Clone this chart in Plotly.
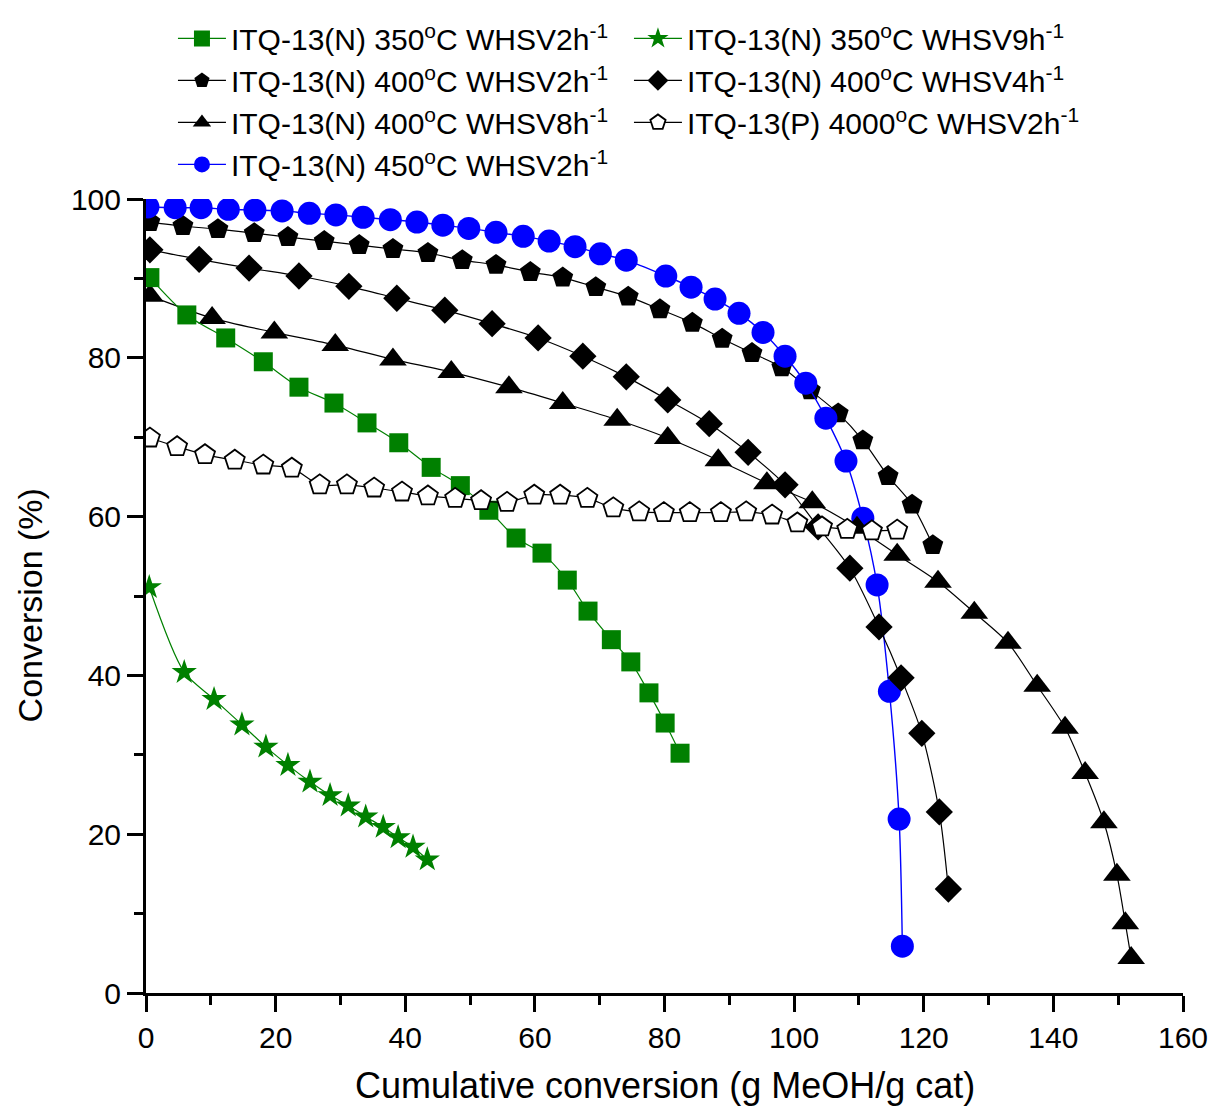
import plotly.graph_objects as go

# ITQ-13(N) 350 °C, WHSV 2 h-1
x_n350_w2 = [0.6, 6.3, 12.3, 18.1, 23.6, 29.0, 34.1, 39.0, 44.0, 48.5, 52.9, 57.1,
             61.1, 65.0, 68.2, 71.8, 74.8, 77.6, 80.1, 82.4]
y_n350_w2 = [90.1, 85.4, 82.5, 79.5, 76.3, 74.3, 71.8, 69.3, 66.2, 63.9, 60.8, 57.3,
             55.4, 52.0, 48.1, 44.5, 41.7, 37.8, 34.0, 30.2]

# ITQ-13(N) 350 °C, WHSV 9 h-1
x_n350_w9 = [0.5, 5.9, 10.5, 14.8, 18.5, 21.9, 25.3, 28.4, 31.2, 33.9, 36.6, 38.9, 41.2, 43.4]
y_n350_w9 = [51.1, 40.4, 37.0, 33.8, 31.0, 28.7, 26.6, 24.9, 23.6, 22.2, 20.9, 19.6, 18.4, 16.8]

# ITQ-13(N) 400 °C, WHSV 2 h-1
x_n400_w2 = [0.6, 5.7, 11.1, 16.7, 21.9, 27.5, 32.9, 38.1, 43.5, 48.8, 54.0, 59.3, 64.3,
             69.4, 74.4, 79.3, 84.3, 88.9, 93.5, 98.1, 102.5, 106.8, 110.6, 114.5, 118.2, 121.4]
y_n400_w2 = [97.1, 96.6, 96.2, 95.7, 95.2, 94.7, 94.2, 93.7, 93.2, 92.3, 91.7, 90.8, 90.1,
             88.9, 87.7, 86.1, 84.4, 82.4, 80.6, 78.8, 75.9, 73.0, 69.6, 65.1, 61.5, 56.4]

# ITQ-13(N) 400 °C, WHSV 4 h-1
x_n400_w4 = [0.6, 8.2, 15.9, 23.6, 31.3, 38.7, 46.1, 53.4, 60.5, 67.4, 74.1, 80.5, 86.9,
             92.9, 98.6, 103.7, 108.6, 113.1, 116.5, 119.7, 122.4, 123.8]
y_n400_w4 = [93.6, 92.4, 91.3, 90.3, 89.0, 87.5, 86.0, 84.3, 82.5, 80.2, 77.6, 74.7, 71.7,
             68.1, 64.0, 58.7, 53.5, 46.1, 39.7, 32.7, 22.8, 13.1]

# ITQ-13(N) 400 °C, WHSV 8 h-1
x_n400_w8 = [0.6, 10.2, 19.8, 29.2, 38.1, 47.1, 56.0, 64.3, 72.7, 80.5, 88.3, 95.8, 102.8,
             109.7, 115.9, 122.2, 127.8, 133.0, 137.5, 141.8, 144.9, 147.8, 149.8, 151.1, 152.0]
y_n400_w8 = [87.8, 85.0, 83.2, 81.6, 79.8, 78.2, 76.3, 74.3, 72.2, 69.9, 67.1, 64.2, 61.8,
             58.6, 55.2, 51.8, 47.9, 44.1, 38.7, 33.4, 27.7, 21.5, 14.9, 8.8, 4.4]

# ITQ-13(P), WHSV 2 h-1
x_p_w2 = [0.6, 4.8, 9.1, 13.7, 18.1, 22.5, 26.8, 31.0, 35.2, 39.5, 43.5, 47.7, 51.7, 55.7,
          59.9, 63.9, 68.1, 72.1, 76.1, 79.9, 83.9, 88.7, 92.6, 96.6, 100.5, 104.3, 108.2,
          112.0, 115.9]
y_p_w2 = [69.9, 68.8, 67.8, 67.1, 66.5, 66.1, 64.0, 64.0, 63.6, 63.1, 62.6, 62.3, 62.0, 61.8,
          62.7, 62.7, 62.3, 61.1, 60.6, 60.5, 60.5, 60.5, 60.6, 60.2, 59.2, 58.7, 58.4,
          58.2, 58.3]

# ITQ-13(N) 450 °C, WHSV 2 h-1
x_n450_w2 = [0.3, 4.5, 8.5, 12.7, 16.8, 21.0, 25.2, 29.3, 33.5, 37.7, 41.8, 45.8, 49.8,
             54.0, 58.2, 62.2, 66.2, 70.1, 74.1, 80.2, 84.1, 87.8, 91.5, 95.2, 98.6, 101.8,
             104.9, 108.0, 110.6, 112.8, 114.7, 116.2, 116.7]
y_n450_w2 = [99.0, 98.9, 98.9, 98.7, 98.6, 98.5, 98.2, 98.0, 97.7, 97.4, 97.1, 96.7, 96.3,
             95.8, 95.3, 94.7, 94.0, 93.1, 92.3, 90.3, 88.9, 87.4, 85.6, 83.2, 80.2, 76.8,
             72.4, 67.0, 59.8, 51.4, 38.0, 21.9, 5.9]

names = {
    "n350_w2": "ITQ-13(N) 350<sup>o</sup>C WHSV2h<sup>-1</sup>",
    "n350_w9": "ITQ-13(N) 350<sup>o</sup>C WHSV9h<sup>-1</sup>",
    "n400_w2": "ITQ-13(N) 400<sup>o</sup>C WHSV2h<sup>-1</sup>",
    "n400_w4": "ITQ-13(N) 400<sup>o</sup>C WHSV4h<sup>-1</sup>",
    "n400_w8": "ITQ-13(N) 400<sup>o</sup>C WHSV8h<sup>-1</sup>",
    "p_w2": "ITQ-13(P) 4000<sup>o</sup>C WHSV2h<sup>-1</sup>",
    "n450_w2": "ITQ-13(N) 450<sup>o</sup>C WHSV2h<sup>-1</sup>",
}

GREEN = "#008000"
BLUE = "#0000FF"
BLACK = "#000000"
FONT = "Arial, 'Liberation Sans', sans-serif"

fig = go.Figure()


def add(x, y, name, rank, color, symbol, size, fill=None, mline=0, lw=1.2):
    fig.add_trace(go.Scatter(
        x=x, y=y, name=name, mode="lines+markers", legendrank=rank,
        line=dict(color=color, width=lw, shape="spline", smoothing=0.8),
        marker=dict(symbol=symbol, size=size, color=fill or color,
                    line=dict(color=color, width=mline)),
    ))


# drawing order (bottom to top)
add(x_n400_w2, y_n400_w2, names["n400_w2"], 3, BLACK, "pentagon", 22)
add(x_n450_w2, y_n450_w2, names["n450_w2"], 7, BLUE, "circle", 23, lw=1.4)
add(x_n400_w4, y_n400_w4, names["n400_w4"], 4, BLACK, "diamond", 21)
add(x_n400_w8, y_n400_w8, names["n400_w8"], 5, BLACK, "triangle-up", 24)
add(x_n350_w2, y_n350_w2, names["n350_w2"], 1, GREEN, "square", 19)
add(x_n350_w9, y_n350_w9, names["n350_w9"], 2, GREEN, "star", 19)
add(x_p_w2, y_p_w2, names["p_w2"], 6, BLACK, "pentagon", 21, fill="#FFFFFF", mline=1.8)

axis_common = dict(
    showline=True, linecolor=BLACK, linewidth=3, mirror=False, automargin=False,
    ticks="outside", ticklen=16, tickwidth=3, tickcolor=BLACK,
    showgrid=False, zeroline=False,
    tickfont=dict(family=FONT, size=30, color=BLACK),
    minor=dict(ticks="outside", ticklen=9, tickwidth=3, tickcolor=BLACK, dtick=10, showgrid=False),
)

fig.update_xaxes(range=[0, 160], dtick=20, tick0=0, **axis_common)
fig.update_yaxes(range=[0, 100], dtick=20, tick0=0, **axis_common)

fig.update_layout(
    width=1211, height=1108,
    margin=dict(l=146, r=28, t=199, b=115, autoexpand=False),
    paper_bgcolor="white", plot_bgcolor="white",
    font=dict(family=FONT, color=BLACK),
    showlegend=True,
    legend=dict(
        orientation="h", x=0.026, xanchor="left", y=1.235, yanchor="top",
        font=dict(family=FONT, size=30, color=BLACK),
        itemwidth=48, entrywidth=393, entrywidthmode="pixels",
        bgcolor="rgba(0,0,0,0)", itemclick=False,
    ),
    annotations=[
        dict(text="Cumulative conversion (g MeOH/g cat)", xref="paper", yref="paper",
             x=0.5, y=-0.117, xanchor="center", yanchor="middle", showarrow=False,
             font=dict(family=FONT, size=36, color=BLACK)),
        dict(text="Conversion (%)", xref="paper", yref="paper", textangle=-90,
             x=-0.112, y=0.488, xanchor="center", yanchor="middle", showarrow=False,
             font=dict(family=FONT, size=34, color=BLACK)),
    ],
)

fig.write_html("out.html")
